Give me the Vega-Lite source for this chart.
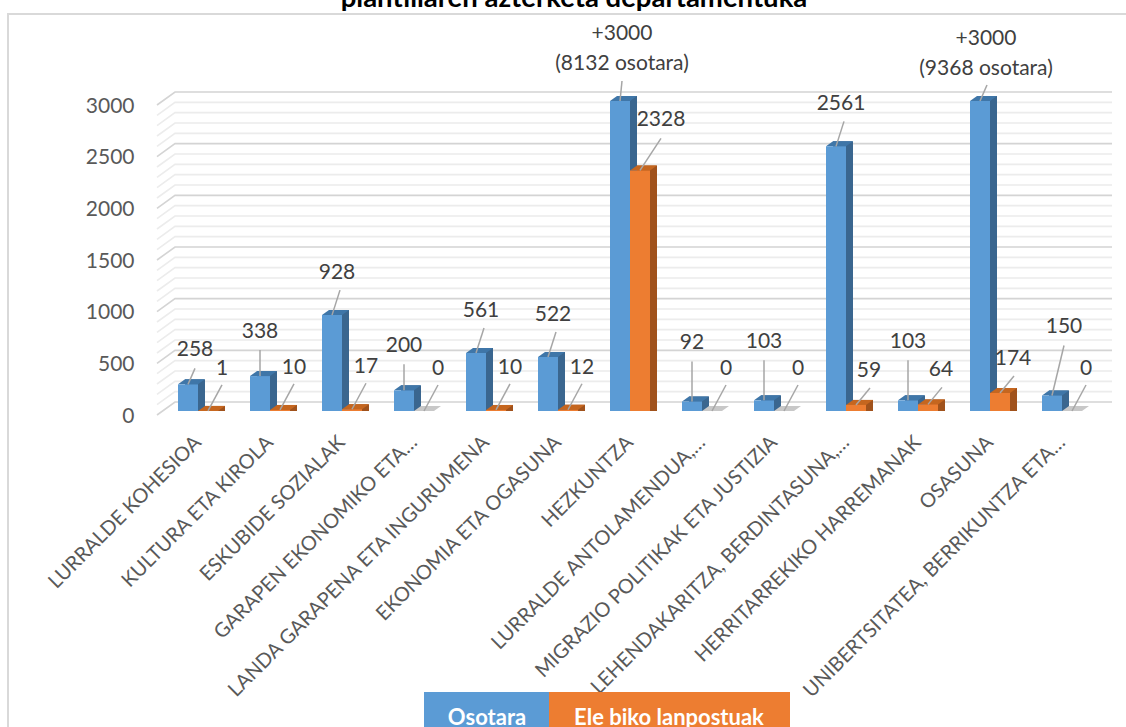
{
"$schema":"https://vega.github.io/schema/vega-lite/v6.json",
"width":936,"height":310,
"autosize":{"type":"none"},
"padding":{"left":162,"top":101,"right":28,"bottom":316},
"background":"white",
"config":{"view":{"stroke":null},"font":"Lato"},
"title":{"text":"plantillaren azterketa departamentuka","font":"Lato","fontSize":27.5,"fontWeight":"bold","color":"#000000","anchor":"middle","dx":-56,"offset":-2},
"datasets":{
"rows":[
{"dept":"LURRALDE KOHESIOA","series":"Osotara","value":258,"label":"258"},
{"dept":"LURRALDE KOHESIOA","series":"Ele biko lanpostuak","value":1,"label":"1"},
{"dept":"KULTURA ETA KIROLA","series":"Osotara","value":338,"label":"338"},
{"dept":"KULTURA ETA KIROLA","series":"Ele biko lanpostuak","value":10,"label":"10"},
{"dept":"ESKUBIDE SOZIALAK","series":"Osotara","value":928,"label":"928"},
{"dept":"ESKUBIDE SOZIALAK","series":"Ele biko lanpostuak","value":17,"label":"17"},
{"dept":"GARAPEN EKONOMIKO ETA…","series":"Osotara","value":200,"label":"200"},
{"dept":"GARAPEN EKONOMIKO ETA…","series":"Ele biko lanpostuak","value":0,"label":"0"},
{"dept":"LANDA GARAPENA ETA INGURUMENA","series":"Osotara","value":561,"label":"561"},
{"dept":"LANDA GARAPENA ETA INGURUMENA","series":"Ele biko lanpostuak","value":10,"label":"10"},
{"dept":"EKONOMIA ETA OGASUNA","series":"Osotara","value":522,"label":"522"},
{"dept":"EKONOMIA ETA OGASUNA","series":"Ele biko lanpostuak","value":12,"label":"12"},
{"dept":"HEZKUNTZA","series":"Osotara","value":3000,"label":"+3000\n(8132 osotara)"},
{"dept":"HEZKUNTZA","series":"Ele biko lanpostuak","value":2328,"label":"2328"},
{"dept":"LURRALDE ANTOLAMENDUA,…","series":"Osotara","value":92,"label":"92"},
{"dept":"LURRALDE ANTOLAMENDUA,…","series":"Ele biko lanpostuak","value":0,"label":"0"},
{"dept":"MIGRAZIO POLITIKAK ETA JUSTIZIA","series":"Osotara","value":103,"label":"103"},
{"dept":"MIGRAZIO POLITIKAK ETA JUSTIZIA","series":"Ele biko lanpostuak","value":0,"label":"0"},
{"dept":"LEHENDAKARITZA, BERDINTASUNA,…","series":"Osotara","value":2561,"label":"2561"},
{"dept":"LEHENDAKARITZA, BERDINTASUNA,…","series":"Ele biko lanpostuak","value":59,"label":"59"},
{"dept":"HERRITARREKIKO HARREMANAK","series":"Osotara","value":103,"label":"103"},
{"dept":"HERRITARREKIKO HARREMANAK","series":"Ele biko lanpostuak","value":64,"label":"64"},
{"dept":"OSASUNA","series":"Osotara","value":3000,"label":"+3000\n(9368 osotara)"},
{"dept":"OSASUNA","series":"Ele biko lanpostuak","value":174,"label":"174"},
{"dept":"UNIBERTSITATEA, BERRIKUNTZA ETA…","series":"Osotara","value":150,"label":"150"},
{"dept":"UNIBERTSITATEA, BERRIKUNTZA ETA…","series":"Ele biko lanpostuak","value":0,"label":"0"}
],
"grid":[{"v":0},{"v":100},{"v":200},{"v":300},{"v":400},{"v":500},{"v":600},{"v":700},{"v":800},{"v":900},{"v":1000},{"v":1100},{"v":1200},{"v":1300},{"v":1400},{"v":1500},{"v":1600},{"v":1700},{"v":1800},{"v":1900},{"v":2000},{"v":2100},{"v":2200},{"v":2300},{"v":2400},{"v":2500},{"v":2600},{"v":2700},{"v":2800},{"v":2900},{"v":3000}],
"one":[{"k":"frame"}],
"legend":[{"series":"Osotara"},{"series":"Ele biko lanpostuak"}]
},
"resolve":{"axis":{"y":"shared"}},
"layer":[
{"data":{"name":"one"},"mark":{"type":"point","shape":"M-622,471L-622,-242L496,-242","size":4,"filled":false,"stroke":"#d9d9d9","strokeWidth":2,"opacity":1},"encoding":{}},
{"data":{"name":"grid"},"mark":{"type":"point","shape":"M-473,4L-455,-9L482,-9","size":4,"filled":false,"strokeWidth":1.6,"opacity":1},
"encoding":{"y":{"field":"v","type":"quantitative","scale":{"domain":[0,3000],"nice":false,"zero":true},
"axis":{"title":null,"format":"d","domain":false,"ticks":false,"grid":false,"values":[0,500,1000,1500,2000,2500,3000],"labelFont":"Lato","labelFontSize":21,"labelColor":"#595959","labelPadding":28,"labelOffset":5}},
"stroke":{"condition":{"test":"datum.v % 500 === 0","value":"#d4d4d4"},"value":"#ececec"}}},
{"data":{"name":"rows"},
"resolve":{"scale":{"xOffset":"independent"}},
"encoding":{
"x":{"field":"dept","type":"nominal","sort":null,"scale":{"type":"band","paddingInner":0,"paddingOuter":0},
"axis":{"title":null,"domain":false,"ticks":false,"labelAngle":-45,"labelAlign":"right","labelBaseline":"middle","labelFont":"Lato","labelFontSize":20,"labelColor":"#595959","labelPadding":28,"labelLimit":500,"labelOverlap":false}},
"xOffset":{"field":"series","type":"nominal","sort":["Osotara","Ele biko lanpostuak"],"scale":{"type":"band","domain":["Osotara","Ele biko lanpostuak"],"paddingInner":0,"paddingOuter":0.8}},
"y":{"field":"value","type":"quantitative","stack":null,"scale":{"domain":[0,3000],"nice":false,"zero":true},
"axis":{"title":null,"format":"d","domain":false,"ticks":false,"grid":false,"values":[0,500,1000,1500,2000,2500,3000],"labelFont":"Lato","labelFontSize":21,"labelColor":"#595959","labelPadding":28,"labelOffset":5}}
},
"layer":[
{"mark":{"type":"bar","yOffset":-5,"y2Offset":-5},"transform":[{"filter":"datum.value > 0"}],
"encoding":{"xOffset":{"field":"series","type":"nominal","sort":["Osotara","Ele biko lanpostuak"],"scale":{"type":"band","domain":["Osotara","Ele biko lanpostuak"],"paddingInner":0,"paddingOuter":0.8,"align":0.71875}},
"color":{"condition":{"test":"datum.series === 'Osotara'","value":"#3a668f"},"value":"#a0521c"}}},
{"mark":{"type":"point","shape":"M10,0L17,-5L10,-5Z","size":4,"filled":true,"opacity":1,"strokeWidth":0},"transform":[{"filter":"datum.value > 0"}],
"encoding":{"y":{"datum":0},"color":{"condition":{"test":"datum.series === 'Osotara'","value":"#3a668f"},"value":"#a0521c"}}},
{"mark":{"type":"point","shape":"M-10,0L10,0L17,-5L-3,-5Z","size":4,"filled":true,"opacity":1,"strokeWidth":0},
"encoding":{"color":{"condition":[{"test":"datum.value === 0","value":"#c8c8c8"},{"test":"datum.series === 'Osotara'","value":"#3f76a8"}],"value":"#c5661f"}}},
{"mark":{"type":"bar"},"encoding":{"color":{"field":"series","type":"nominal","scale":{"domain":["Osotara","Ele biko lanpostuak"],"range":["#5b9bd5","#ed7d31"]},"legend":null}}},

{"transform":[{"filter":{"field":"label","oneOf":["928","561","522","2561"]}}],"layer":[
{"mark":{"type":"point","shape":"M0,0L8,-25","size":4,"filled":false,"stroke":"#a6a6a6","strokeWidth":1.5,"opacity":1}},
{"mark":{"type":"text","dx":5,"dy":-42,"font":"Lato","fontSize":21,"color":"#404040"},"encoding":{"text":{"field":"label"}}}]},
{"transform":[{"filter":{"field":"label","oneOf":["258"]}}],"layer":[
{"mark":{"type":"point","shape":"M0,0L7,-16","size":4,"filled":false,"stroke":"#a6a6a6","strokeWidth":1.5,"opacity":1}},
{"mark":{"type":"text","dx":7,"dy":-34,"font":"Lato","fontSize":21,"color":"#404040"},"encoding":{"text":{"field":"label"}}}]},
{"transform":[{"filter":{"field":"label","oneOf":["338","200"]}}],"layer":[
{"mark":{"type":"point","shape":"M0,0L0,-26","size":4,"filled":false,"stroke":"#a6a6a6","strokeWidth":1.5,"opacity":1}},
{"mark":{"type":"text","dx":0,"dy":-44,"font":"Lato","fontSize":21,"color":"#404040"},"encoding":{"text":{"field":"label"}}}]},
{"transform":[{"filter":{"field":"label","oneOf":["92","103"]}}],"layer":[
{"mark":{"type":"point","shape":"M0,0L0,-40","size":4,"filled":false,"stroke":"#a6a6a6","strokeWidth":1.5,"opacity":1}},
{"mark":{"type":"text","dx":0,"dy":-58,"font":"Lato","fontSize":21,"color":"#404040"},"encoding":{"text":{"field":"label"}}}]},
{"transform":[{"filter":{"field":"label","oneOf":["150"]}}],"layer":[
{"mark":{"type":"point","shape":"M0,0L12,-50","size":4,"filled":false,"stroke":"#a6a6a6","strokeWidth":1.5,"opacity":1}},
{"mark":{"type":"text","dx":12,"dy":-69,"font":"Lato","fontSize":21,"color":"#404040"},"encoding":{"text":{"field":"label"}}}]},
{"transform":[{"filter":"datum.dept === 'HEZKUNTZA' && datum.series === 'Osotara'"}],"layer":[
{"mark":{"type":"point","shape":"M0,0L2,-20","size":4,"filled":false,"stroke":"#a6a6a6","strokeWidth":1.5,"opacity":1}},
{"mark":{"type":"text","dx":2,"dy":-57,"baseline":"bottom","lineBreak":"\n","lineHeight":30,"font":"Lato","fontSize":21,"color":"#404040"},"encoding":{"text":{"field":"label"}}}]},
{"transform":[{"filter":"datum.dept === 'OSASUNA' && datum.series === 'Osotara'"}],"layer":[
{"mark":{"type":"point","shape":"M0,0L7,-16","size":4,"filled":false,"stroke":"#a6a6a6","strokeWidth":1.5,"opacity":1}},
{"mark":{"type":"text","dx":6,"dy":-52,"baseline":"bottom","lineBreak":"\n","lineHeight":30,"font":"Lato","fontSize":21,"color":"#404040"},"encoding":{"text":{"field":"label"}}}]},
{"transform":[{"filter":"datum.series !== 'Osotara' && indexof(['1','10','17','0','12'], datum.label) >= 0"}],"layer":[
{"mark":{"type":"point","shape":"M0,0L14,-26","size":4,"filled":false,"stroke":"#a6a6a6","strokeWidth":1.5,"opacity":1}},
{"mark":{"type":"text","dx":14,"dy":-42,"font":"Lato","fontSize":21,"color":"#404040"},"encoding":{"text":{"field":"label"}}}]},
{"transform":[{"filter":{"field":"label","oneOf":["2328"]}}],"layer":[
{"mark":{"type":"point","shape":"M0,0L21,-32","size":4,"filled":false,"stroke":"#a6a6a6","strokeWidth":1.5,"opacity":1}},
{"mark":{"type":"text","dx":21,"dy":-50,"font":"Lato","fontSize":21,"color":"#404040"},"encoding":{"text":{"field":"label"}}}]},
{"transform":[{"filter":{"field":"label","oneOf":["59","64","174"]}}],"layer":[
{"mark":{"type":"point","shape":"M0,0L14,-17","size":4,"filled":false,"stroke":"#a6a6a6","strokeWidth":1.5,"opacity":1}},
{"mark":{"type":"text","dx":13,"dy":-34,"font":"Lato","fontSize":21,"color":"#404040"},"encoding":{"text":{"field":"label"}}}]}
]},
{"data":{"name":"legend"},"transform":[{"filter":"datum.series === 'Osotara'"}],"layer":[
{"mark":{"type":"point","shape":"M-206,436L-81,436L-81,471L-206,471Z","size":4,"filled":true,"color":"#5b9bd5","opacity":1,"strokeWidth":0}},
{"mark":{"type":"text","dx":-143,"dy":462,"font":"Lato","fontSize":22,"fontWeight":"bold","color":"white"},"encoding":{"text":{"field":"series"}}}]},
{"data":{"name":"legend"},"transform":[{"filter":"datum.series !== 'Osotara'"}],"layer":[
{"mark":{"type":"point","shape":"M-81,436L160,436L160,471L-81,471Z","size":4,"filled":true,"color":"#ed7d31","opacity":1,"strokeWidth":0}},
{"mark":{"type":"text","dx":39,"dy":462,"font":"Lato","fontSize":22,"fontWeight":"bold","color":"white"},"encoding":{"text":{"field":"series"}}}]}
]
}
